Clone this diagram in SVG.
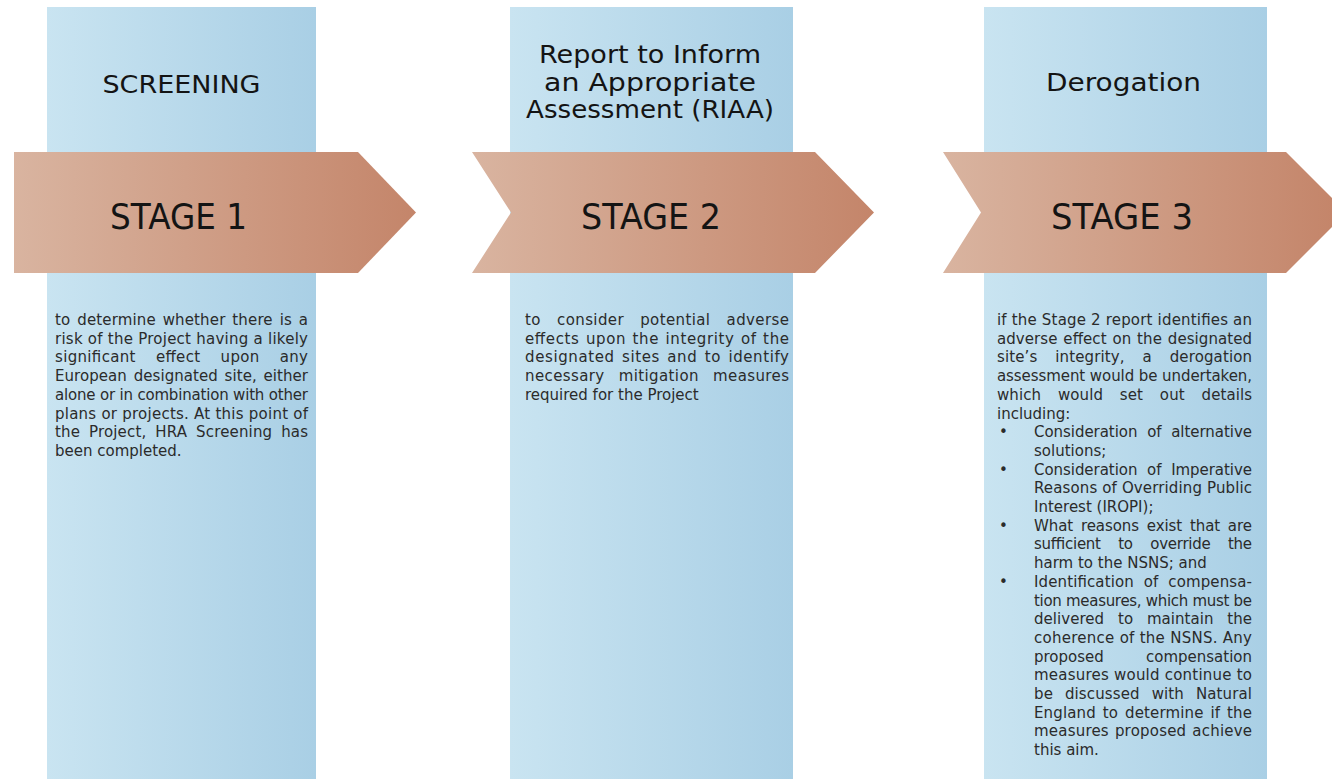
<svg xmlns="http://www.w3.org/2000/svg" width="1332" height="779" viewBox="0 0 1332 779">
<defs>
<linearGradient id="colGrad" x1="0" y1="0" x2="1" y2="0">
<stop offset="0" stop-color="#c9e4f1"/>
<stop offset="1" stop-color="#a9cfe5"/>
</linearGradient>
<linearGradient id="arrGrad" x1="0" y1="0" x2="1" y2="0">
<stop offset="0" stop-color="#d9b4a0"/>
<stop offset="1" stop-color="#c4856a"/>
</linearGradient>
<style>
.col{fill:url(#colGrad);}
.arr{fill:url(#arrGrad);}
.title{font-family:"DejaVu Sans","Liberation Sans",sans-serif;font-size:25px;fill:#141414;text-anchor:middle;}
.stage{font-family:"DejaVu Sans","Liberation Sans",sans-serif;font-size:36px;fill:#141414;text-anchor:middle;}
.body{font-family:"DejaVu Sans","Liberation Sans",sans-serif;font-size:15px;fill:#2b2b2b;}
.end{text-anchor:end;}
</style>
</defs>
<rect width="1332" height="779" fill="#ffffff"/>
<g id="connectors"></g>

<g id="stage1">
<rect class="col" x="47" y="7" width="269" height="772"/>
<polygon class="arr" points="14,152 358,152 416,212.5 358,273 14,273"/>
<text class="title" x="181.5" y="93" textLength="158" lengthAdjust="spacingAndGlyphs">SCREENING</text>
<text class="stage" x="178.5" y="229" textLength="137" lengthAdjust="spacingAndGlyphs">STAGE 1</text>
<g class="body">
<text x="55" y="325" textLength="253" word-spacing="2">to determine whether there is a</text>
<text x="55" y="343.7" textLength="253" word-spacing="0">risk of the Project having a likely</text>
<text x="55" y="362.4" textLength="253" word-spacing="15">significant effect upon any</text>
<text x="55" y="381.1" textLength="253" word-spacing="2">European designated site, either</text>
<text x="55" y="399.8" textLength="253" word-spacing="0">alone or in combination with other</text>
<text x="55" y="418.5" textLength="253" word-spacing="0">plans or projects. At this point of</text>
<text x="55" y="437.2" textLength="253" word-spacing="4">the Project, HRA Screening has</text>
<text x="55" y="455.9">been completed.</text>
</g>
</g>

<g id="stage2">
<rect class="col" x="510" y="7" width="283" height="772"/>
<polygon class="arr" points="472,152 815,152 874,212.5 815,273 472,273 511,212.5"/>
<text class="title" x="650" y="63" textLength="222" lengthAdjust="spacingAndGlyphs">Report to Inform</text>
<text class="title" x="650" y="90.5" textLength="212" lengthAdjust="spacingAndGlyphs">an Appropriate</text>
<text class="title" x="650" y="118" textLength="248" lengthAdjust="spacingAndGlyphs">Assessment (RIAA)</text>
<text class="stage" x="651" y="229" textLength="140" lengthAdjust="spacingAndGlyphs">STAGE 2</text>
<g class="body">
<text x="525" y="325" textLength="264" word-spacing="11">to consider potential adverse</text>
<text x="525" y="343.7" textLength="264" word-spacing="1">effects upon the integrity of the</text>
<text x="525" y="362.4" textLength="264" word-spacing="2">designated sites and to identify</text>
<text x="525" y="381.1" textLength="264" word-spacing="9">necessary mitigation measures</text>
<text x="525" y="399.8">required for the Project</text>
</g>
</g>

<g id="stage3">
<rect class="col" x="984" y="7" width="283" height="772"/>
<polygon class="arr" points="943,152 1286,152 1334,200 1334,225 1286,273 943,273 981,212.5"/>
<text class="title" x="1123.5" y="91" textLength="155" lengthAdjust="spacingAndGlyphs">Derogation</text>
<text class="stage" x="1122" y="229" textLength="142" lengthAdjust="spacingAndGlyphs">STAGE 3</text>
<g class="body">
<text x="997" y="325" textLength="255" word-spacing="0">if the Stage 2 report identifies an</text>
<text x="997" y="343.7" textLength="255" word-spacing="1">adverse effect on the designated</text>
<text x="997" y="362.4" textLength="255" word-spacing="13">site’s integrity, a derogation</text>
<text x="997" y="381.1" textLength="255" word-spacing="0">assessment would be undertaken,</text>
<text x="997" y="399.8" textLength="255" word-spacing="12">which would set out details</text>
<text x="997" y="418.5">including:</text>
<text x="999" y="437.2">•</text>
<text x="1034" y="437.2" textLength="218" word-spacing="5">Consideration of alternative</text>
<text x="1034" y="455.9">solutions;</text>
<text x="999" y="474.6">•</text>
<text x="1034" y="474.6" textLength="218" word-spacing="5">Consideration of Imperative</text>
<text x="1034" y="493.3" textLength="218" word-spacing="0">Reasons of Overriding Public</text>
<text x="1034" y="512">Interest (IROPI);</text>
<text x="999" y="530.7">•</text>
<text x="1034" y="530.7" textLength="218" word-spacing="3">What reasons exist that are</text>
<text x="1034" y="549.4" textLength="218" word-spacing="13">sufficient to override the</text>
<text x="1034" y="568.1">harm to the NSNS; and</text>
<text x="999" y="586.8">•</text>
<text x="1034" y="586.8" textLength="218" word-spacing="5">Identification of compensa-</text>
<text x="1034" y="605.5" textLength="218" word-spacing="0">tion measures, which must be</text>
<text x="1034" y="624.2" textLength="218" word-spacing="9">delivered to maintain the</text>
<text x="1034" y="642.9" textLength="218" word-spacing="0">coherence of the NSNS. Any</text>
<text x="1034" y="661.6">proposed</text>
<text class="end" x="1252" y="661.6">compensation</text>
<text x="1034" y="680.3" textLength="218" word-spacing="0">measures would continue to</text>
<text x="1034" y="699" textLength="218" word-spacing="7">be discussed with Natural</text>
<text x="1034" y="717.7" textLength="218" word-spacing="2">England to determine if the</text>
<text x="1034" y="736.4" textLength="218" word-spacing="1">measures proposed achieve</text>
<text x="1034" y="755.1">this aim.</text>
</g>
</g>
</svg>
